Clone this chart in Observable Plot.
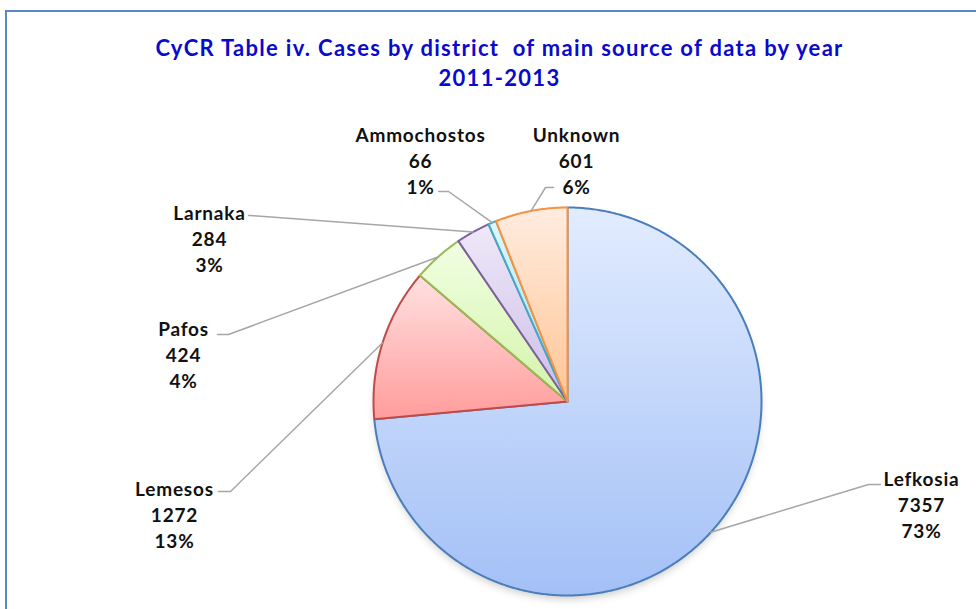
<!DOCTYPE html>
<html><head><meta charset="utf-8">
<script src="https://cdn.jsdelivr.net/npm/d3@7"></script>
<script src="https://cdn.jsdelivr.net/npm/@observablehq/plot@0.6"></script>
<style>
body{margin:0;background:#fff;overflow:hidden}
#wrap{position:relative;width:976px;height:609px;overflow:hidden}
#frame{position:absolute;left:5px;top:10px;width:1000px;height:700px;border:2.5px solid #5b87c6;box-sizing:border-box}
#chart{position:absolute;left:0;top:0}
</style></head><body>
<div id="wrap"><div id="frame"></div><div id="chart"></div></div>
<script>
// ---- data ----
const districts = ["Lefkosia", "Lemesos", "Pafos", "Larnaka", "Ammochostos", "Unknown"];
const cases = [7357, 1272, 424, 284, 66, 601];
const percentLabels = ["73%", "13%", "4%", "3%", "1%", "6%"];
const titleLines = ["CyCR Table iv. Cases by district  of main source of data by year", "2011-2013"];

// ---- styles ----
const strokeColors = ["#4a7ebb", "#be4b48", "#98b954", "#7d60a0", "#46aac5", "#f69240"];
const gradTop = ["#e2ecff", "#ffe1e1", "#f1ffe3", "#efe9f8", "#e0f6fc", "#ffece0"];
const gradBottom = ["#a3c0f6", "#ff9c9b", "#d3f3a9", "#cbbde8", "#a0e0f0", "#ffc594"];

// ---- layout ----
const W = 976, H = 609, cx = 567, cy = 401, R = 194;
const labelMid = [[921, 503], [174, 513], [183, 353], [209, 237], [420, 159], [576, 159]];
const elbows = [
  [[868, 484], [880, 484]],
  [[230, 491], [218, 491]],
  [[228, 334], [217, 334]],
  [[250, 215], [248, 215]],
  [[448, 191], [438, 191]],
  [[545, 187], [553, 187]]
];

const arcs = d3.pie().sort(null).value(d => d)(cases);
const pt = (a, r) => ({x: cx + r * Math.sin(a), y: cy - r * Math.cos(a)});

const sliceMarks = arcs.map((a, i) => {
  const pts = [{x: cx, y: cy}];
  const n = Math.max(2, Math.ceil((a.endAngle - a.startAngle) / (Math.PI / 360)));
  for (let k = 0; k <= n; k++) pts.push(pt(a.startAngle + (a.endAngle - a.startAngle) * k / n, R));
  pts.push({x: cx, y: cy});
  return Plot.line(pts, {x: "x", y: "y", fill: `url(#grad${i})`, stroke: strokeColors[i], strokeWidth: 2, strokeLinejoin: "round", curve: "linear"});
});

const leaderMarks = arcs.map((a, i) => {
  const mid = (a.startAngle + a.endAngle) / 2;
  const pts = [pt(mid, R), {x: elbows[i][0][0], y: elbows[i][0][1]}, {x: elbows[i][1][0], y: elbows[i][1][1]}];
  return Plot.line(pts, {x: "x", y: "y", stroke: "#a6a6a6", strokeWidth: 1.5});
});

const labels = districts.map((d, i) => ({x: labelMid[i][0], y: labelMid[i][1], text: `${d}\n${cases[i]}\n${percentLabels[i]}`}));
const titles = titleLines.map((t, i) => ({x: 499, y: 48 + i * 30, text: t}));

const defs = () => {
  const g = d3.create("svg:defs");
  gradTop.forEach((c, i) => {
    const lg = g.append("linearGradient").attr("id", `grad${i}`).attr("x1", 0).attr("y1", 0).attr("x2", 0).attr("y2", 1);
    lg.append("stop").attr("offset", "0%").attr("stop-color", c);
    lg.append("stop").attr("offset", "100%").attr("stop-color", gradBottom[i]);
  });
  const f = g.append("filter").attr("id", "blur").attr("x", "-20%").attr("y", "-20%").attr("width", "140%").attr("height", "140%");
  f.append("feGaussianBlur").attr("stdDeviation", 4);
  return g.node();
};

const chart = Plot.plot({
  width: W, height: H, margin: 0,
  x: {domain: [0, W], range: [0, W], axis: null},
  y: {domain: [0, H], range: [0, H], axis: null},
  style: {background: "transparent", fontFamily: "Lato, 'Open Sans', sans-serif"},
  marks: [
    defs,
    Plot.dot([{x: cx, y: cy + 5}], {x: "x", y: "y", r: R - 2, fill: "#000", fillOpacity: 0.22}),
    ...sliceMarks,
    ...leaderMarks,
    Plot.text(labels, {x: "x", y: "y", text: "text", fontSize: 19, fontWeight: "bold", fill: "#111", lineHeight: 26 / 19, textAnchor: "middle"}),
    Plot.text(titles, {x: "x", y: "y", text: "text", fontSize: 22, fontWeight: "bold", fill: "#0a0acc", textAnchor: "middle"})
  ]
});
const svg = d3.select(chart);
svg.selectAll("g[font-size='22']").style("letter-spacing", "1.3px");
svg.selectAll("g[font-size='19']").style("letter-spacing", "0.8px");
svg.selectAll("circle").filter(function() { return this.getAttribute("r") == String(R - 2) || this.parentNode.getAttribute("r") == String(R - 2); }).attr("filter", "url(#blur)");
svg.selectAll("g[r='" + (R - 2) + "']").attr("filter", "url(#blur)");
document.getElementById("chart").appendChild(chart);
</script>
</body></html>
